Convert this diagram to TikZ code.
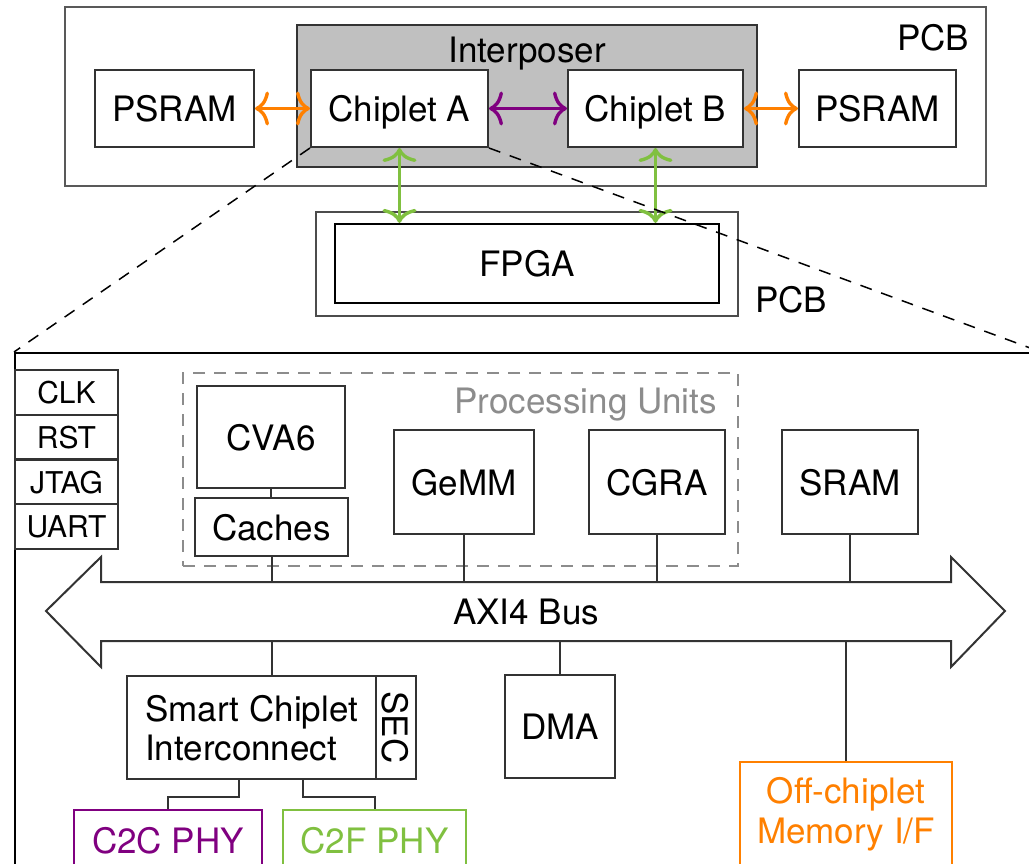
\documentclass[tikz,border=0pt]{standalone}
\usepackage{fontspec}
\setmainfont{TeX Gyre Heros}
\usetikzlibrary{arrows.meta}
\definecolor{edgegray}{HTML}{333333}
\definecolor{interfill}{HTML}{C0C0C0}
\definecolor{orangelink}{HTML}{FF8000}
\definecolor{purplelink}{HTML}{800080}
\definecolor{greenlink}{HTML}{80C040}
\definecolor{labelgray}{HTML}{8C8C8C}

\begin{document}
\begin{tikzpicture}[x=1pt,y=-1pt,
  font=\fontsize{35}{40}\selectfont,
  block/.style={draw=edgegray, line width=2pt, fill=white, inner sep=0pt,
    align=center, text depth=0pt},
  smallblock/.style={block, font=\fontsize{30}{34}\selectfont},
  wire/.style={draw=edgegray, line width=2pt},
  link/.style={line width=3.4pt,
    {Computer Modern Rightarrow[length=14pt,width=34pt]}-{Computer Modern Rightarrow[length=14pt,width=34pt]}},
  zoomline/.style={draw=black, line width=1.5pt, dash pattern=on 12pt off 10pt},
]
\useasboundingbox (0,0) rectangle (1029,864);
\clip (0,0) rectangle (1029,864);

% ---------- package level ----------
\node[block, draw=black!65, line width=2.2pt, minimum width=921, minimum height=179] (pcbtop) at (525.5,96.5) {};
\node[inner sep=0pt, text depth=0pt] (pcbtoplbl) at (933,37) {PCB};
\node[block, fill=interfill, minimum width=460, minimum height=142] (interposer) at (527,96) {};
\node[inner sep=0pt, text depth=0pt] (interlbl) at (527,50) {Interposer};

\node[block, minimum width=159, minimum height=77] (psramL) at (174.5,108.5) {PSRAM};
\node[block, minimum width=177, minimum height=77] (chipA) at (399.5,108.5) {Chiplet A};
\node[block, minimum width=175, minimum height=77] (chipB) at (655.5,108.5) {Chiplet B};
\node[block, minimum width=157, minimum height=77] (psramR) at (877.5,108.5) {PSRAM};

% FPGA board
\node[block, draw=black!70, minimum width=422, minimum height=104] (fpgapcb) at (527,264) {};
\node[block, draw=black, line width=2.2pt, minimum width=384, minimum height=79] (fpga) at (527,263.5) {FPGA};
\node[inner sep=0pt, text depth=0pt] (fpgapcblbl) at (791,299) {PCB};

% chiplet links
\draw[link, orangelink] (psramL.east) -- (chipA.west);
\draw[link, purplelink] (chipA.east) -- (chipB.west);
\draw[link, orangelink] (chipB.east) -- (psramR.west);
\draw[link, greenlink] (chipA.south) -- (chipA.south |- fpga.north);
\draw[link, greenlink] (chipB.south) -- (chipB.south |- fpga.north);

% ---------- chiplet detail ----------
\node[block, draw=black, minimum width=1025, minimum height=527] (chiplet) at (527.5,616.5) {};

% zoom lines from Chiplet A to its detail view
\draw[zoomline] (chipA.south west) -- (chiplet.north west);
\draw[zoomline] (chipA.south east) -- (chiplet.north east);

% peripheral pins
\node[smallblock, minimum width=103, minimum height=44.75] (clk) at (66.5,392.4) {CLK};
\node[smallblock, minimum width=103, minimum height=44.75] (rst) at (66.5,437.1) {RST};
\node[smallblock, minimum width=103, minimum height=44.75] (jtag) at (66.5,481.9) {JTAG};
\node[smallblock, minimum width=103, minimum height=44.75] (uart) at (66.5,526.6) {UART};

% processing units group
\node[draw=labelgray, line width=1.5pt, dash pattern=on 12pt off 9pt, minimum width=555, minimum height=193, inner sep=0pt] (pu) at (460.5,469.5) {};
\node[inner sep=0pt, text height=25pt, text depth=0pt, text=labelgray, anchor=east] (pulbl) at (717,401) {Processing Units};

\node[block, minimum width=148, minimum height=102] (cva6) at (271,437) {CVA6};
\node[block, minimum width=153, minimum height=58] (caches) at (271.5,527) {Caches};
\node[block, minimum width=140, minimum height=104] (gemm) at (464,482) {GeMM};
\node[block, minimum width=136, minimum height=104] (cgra) at (657,482) {CGRA};
\node[block, minimum width=136, minimum height=104] (sram) at (850,482) {SRAM};

% AXI4 bus
\draw[wire, fill=white, line join=miter]
  (46,611) -- (101,557) -- (101,582) -- (951,582) -- (951,557) -- (1005,611)
  -- (951,667) -- (951,641) -- (101,641) -- (101,667) -- cycle;
\node[inner sep=0pt, minimum width=850, minimum height=59, text depth=0pt] (bus) at (526,611.5) {AXI4 Bus};

% blocks below the bus
\node[block, align=left, minimum width=249, minimum height=103] (sci) at (251.5,727.5) {Smart Chiplet\\[-1pt]Interconnect};
\node[block, minimum width=40, minimum height=103] (sec) at (396,727.5) {};
\node[rotate=-90, inner sep=0pt, text depth=0pt] (seclbl) at (sec.center) {SEC};
\node[block, minimum width=110, minimum height=103] (dma) at (560,726.5) {DMA};
\node[block, draw=orangelink, minimum width=212, minimum height=138] (offmem) at (846,831) {};
\node[inner sep=0pt, align=center, text=orangelink] (offmemlbl) at (846,814.5) {Off-chiplet\\Memory I/F};
\node[block, draw=purplelink, text=purplelink, minimum width=188, minimum height=61] (c2c) at (168,840.5) {C2C PHY};
\node[block, draw=greenlink, text=greenlink, minimum width=183, minimum height=61] (c2f) at (374.5,840.5) {C2F PHY};

% bus connections
\draw[wire] (cva6.south) -- (cva6.south |- caches.north);
\draw[wire] (caches.south) -- (caches.south |- bus.north);
\draw[wire] (gemm.south) -- (gemm.south |- bus.north);
\draw[wire] (cgra.south) -- (cgra.south |- bus.north);
\draw[wire] (sram.south) -- (sram.south |- bus.north);
\draw[wire] (caches.south |- bus.south) -- (caches.south |- sci.north);
\draw[wire] (dma.north) -- (dma.north |- bus.south);
\draw[wire] (offmem.north) -- (offmem.north |- bus.south);

% PHY connections
\draw[wire] ([xshift=-12.5pt]sci.south) |- ([yshift=12pt]c2c.north) -- (c2c.north);
\draw[wire] ([xshift=51.5pt]sci.south) |- ([yshift=12pt]c2f.north) -- (c2f.north);
\end{tikzpicture}
\end{document}
